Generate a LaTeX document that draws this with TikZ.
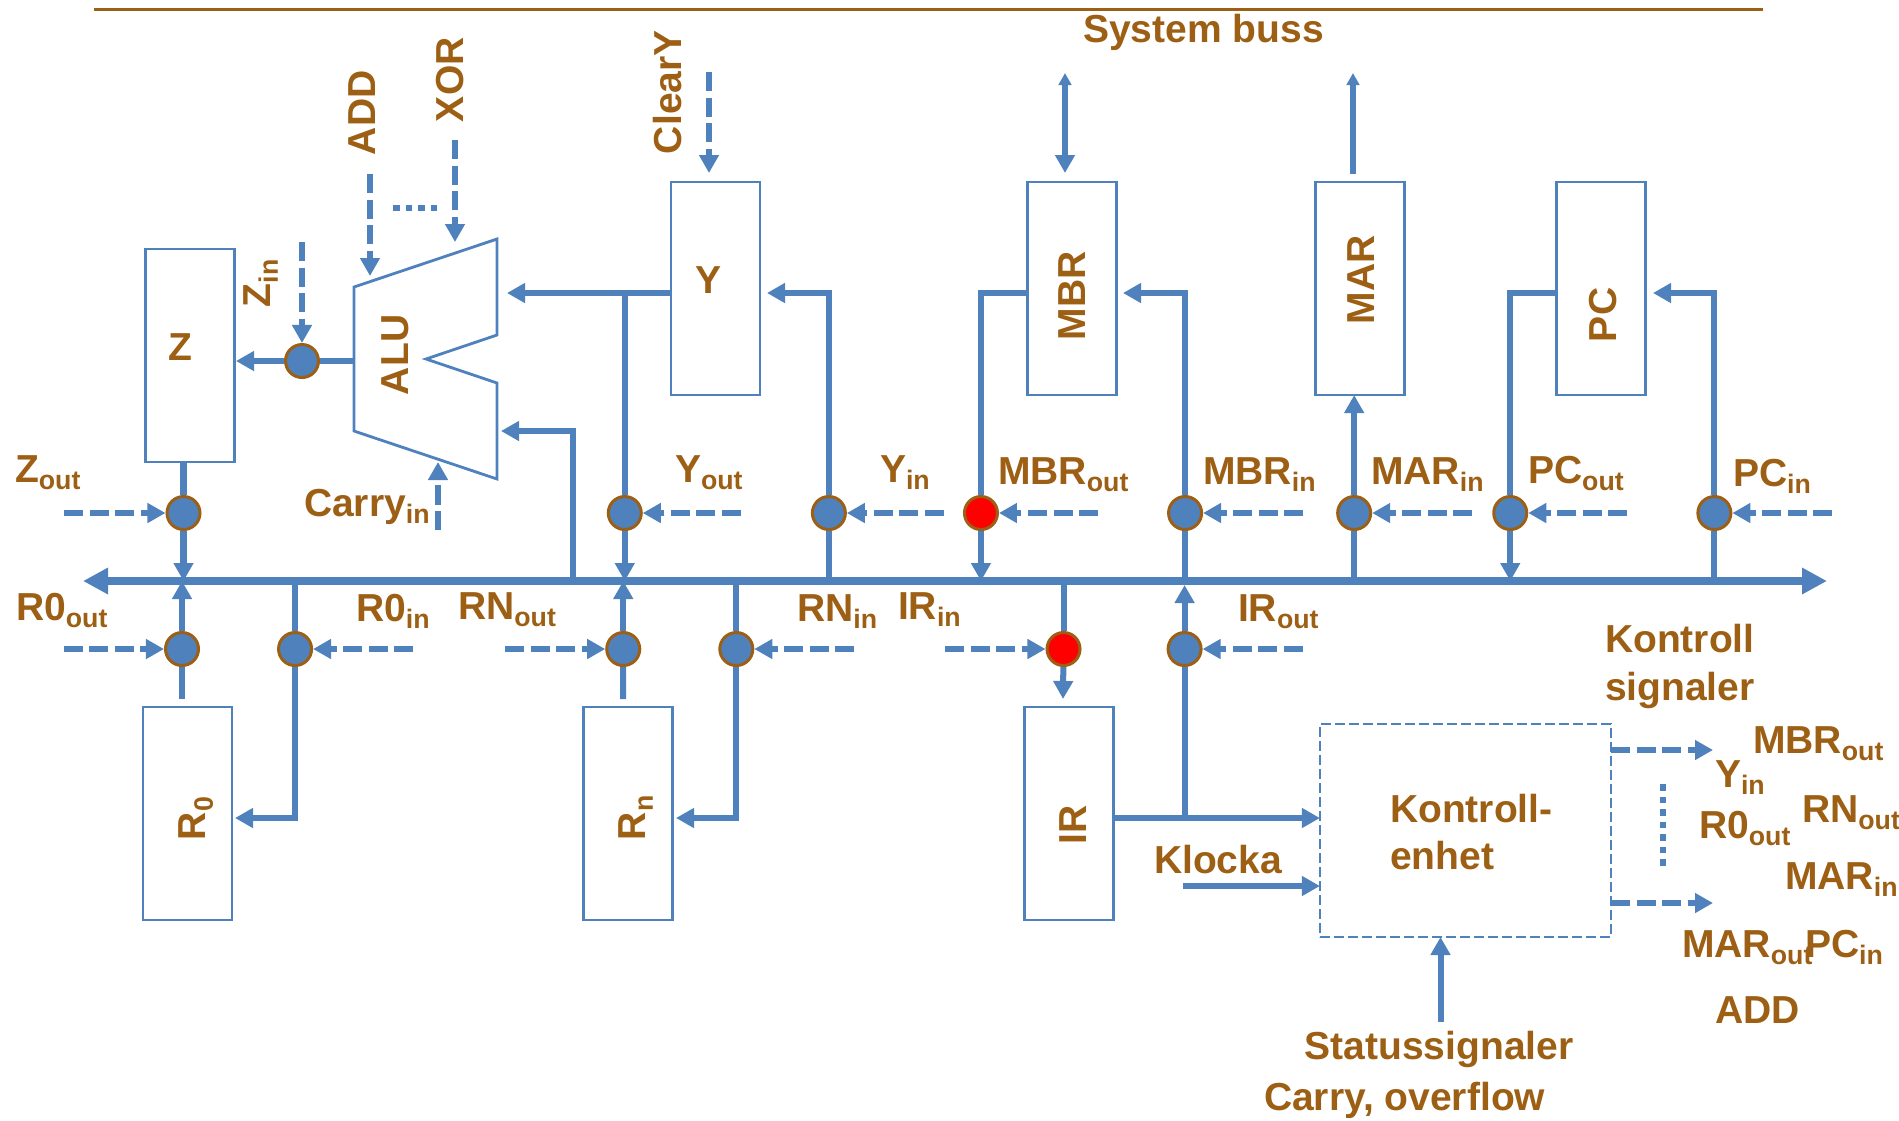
\documentclass[tikz,border=0pt]{standalone}
\usepackage{fontspec}
\setmainfont{Liberation Sans}
\usepackage{xcolor}
\usetikzlibrary{arrows.meta, positioning, calc}
\definecolor{brn}{HTML}{9C5F14}
\definecolor{blu}{HTML}{4F81BD}
\newcommand{\lowtx}[1]{\raisebox{-.2em}{\fontsize{7.6}{9}\selectfont #1}}

\begin{document}
\begin{tikzpicture}[
 x=.01cm,y=-.01cm,
 lbl/.style={font=\fontsize{11.1}{13}\selectfont\bfseries,text=brn,inner sep=0pt,outer sep=0pt,anchor=base west},
 rlbl/.style={lbl,rotate=90},
 reg/.style={rectangle,draw=blu,line width=.028cm,minimum width=.89cm,minimum height=2.13cm,inner sep=0pt,outer sep=0pt},
 sw/.style={circle,draw=brn,line width=.03cm,fill=blu,minimum size=.33cm,inner sep=0pt,outer sep=.015cm},
 swr/.style={sw,fill=red},
 wire/.style={blu,line width=.06cm},
 arr/.style={wire,-{Triangle[length=.18cm,width=.19cm]}},
 tiny arr/.style={wire,-{Triangle[length=.12cm,width=.125cm]}},
 ctl/.style={arr,dash pattern=on .19cm off .065cm},
 dots/.style={wire,dash pattern=on .065cm off .06cm}]
\useasboundingbox (0,0) rectangle (1899,1120);
\draw[brn,line width=.03cm] (94,9) coordinate (topl) -- (1763,9) coordinate (topr);
% registers
\node[reg] (z) at (190,355.5) {};
\node[reg] (y) at (715.5,288.5) {};
\node[reg,right=2.67cm of y] (mbr) {};
\node[reg,right=1.99cm of mbr] (mar) {};
\node[reg,right=1.52cm of mar] (pc) {};
\node[reg] (r0) at (187.5,813.5) {};
\node[reg,right=3.51cm of r0] (rn) {};
\node[reg,right=3.52cm of rn] (ir) {};
\node[rectangle,draw=blu,line width=.02cm,dash pattern=on .1cm off .04cm,minimum width=2.91cm,minimum height=2.13cm,inner sep=0pt,outer sep=0pt] (kontroll) at (1465.5,830.5) {};
% alu
\draw[blu,line width=.028cm] (354,287) coordinate (alua) -- (497,239) -- (497,335) -- (426,359) -- (497,383) -- (497,479) -- (354,431) -- cycle;
\coordinate (aluo) at (354,361);
% bus
\coordinate (busl) at (83,581);
\coordinate (busr) at (1827,581);
\coordinate (buse) at (0,585);
\draw[blu,line width=.08cm,{Triangle[length=.25cm,width=.25cm]}-{Triangle[length=.25cm,width=.25cm]}] (busl) -- (busr);
% switches
\node[sw] (zi) at (302,361) {};
\node[sw] (zo) at (183.5,513) {};
\node[sw,right=4.05cm of zo] (yo) {};
\node[sw,right=1.68cm of yo] (yi) {};
\node[swr,right=1.16cm of yi] (mo) {};
\node[sw,right=1.68cm of mo] (mi) {};
\node[sw,right=1.33cm of mi] (mari) {};
\node[sw,right=1.20cm of mari] (po) {};
\node[sw,right=1.68cm of po] (pi) {};
\node[sw] (r0o) at (182,649) {};
\node[sw,right=.77cm of r0o] (r0i) {};
\node[sw,right=2.92cm of r0i] (rno) {};
\node[sw,right=.77cm of rno] (rni) {};
\node[swr,right=2.91cm of rni] (iri) {};
\node[sw,right=.85cm of iri] (iro) {};
% control signals
\coordinate[left=1.01cm of zo] (zoc);
\coordinate[right=.98cm of yo] (yoc);
\coordinate[right=.97cm of yi] (yic);
\coordinate[right=.99cm of mo] (moc);
\coordinate[right=1cm of mi] (mic);
\coordinate[right=1cm of mari] (maric);
\coordinate[right=.99cm of po] (poc);
\coordinate[right=1cm of pi] (pic);
\coordinate[left=1cm of r0o] (r0oc);
\coordinate[right=1cm of r0i] (r0ic);
\coordinate[left=1cm of rno] (rnoc);
\coordinate[right=1cm of rni] (rnic);
\coordinate[left=1cm of iri] (iric);
\coordinate[right=1cm of iro] (iroc);
\draw[ctl] (zoc) -- (zo);
\draw[ctl] (yoc) -- (yo);
\draw[ctl] (yic) -- (yi);
\draw[ctl] (moc) -- (mo);
\draw[ctl] (mic) -- (mi);
\draw[ctl] (maric) -- (mari);
\draw[ctl] (poc) -- (po);
\draw[ctl] (pic) -- (pi);
\draw[ctl] (r0oc) -- (r0o);
\draw[ctl] (r0ic) -- (r0i);
\draw[ctl] (rnoc) -- (rno);
\draw[ctl] (rnic) -- (rni);
\draw[ctl] (iric) -- (iri);
\draw[ctl] (iroc) -- (iro);
\coordinate (zic) at (302,242);
\coordinate (adds) at (370,174);
\coordinate (addt) at (370,276);
\coordinate (xors) at (455,140);
\coordinate (xort) at (455,242);
\coordinate (clrs) at (709,72);
\coordinate (clrt) at (709,173);
\coordinate (cars) at (438,530);
\coordinate (cart) at (438,462);
\coordinate (dotl) at (393,208);
\coordinate (dotr) at (438,208);
\draw[ctl] (zic) -- (zi);
\draw[ctl] (adds) -- (addt);
\draw[ctl] (xors) -- (xort);
\draw[ctl] (clrs) -- (clrt);
\draw[ctl] (cars) -- (cart);
\draw[dots] (dotl) -- (dotr);
% data paths
\coordinate (zt) at (236,361);
\coordinate (aluy) at (507,293);
\coordinate (alub) at (501,431);
\coordinate (yt) at (767,293);
\coordinate (mt) at (1123,293);
\coordinate (pt) at (1653,293);
\coordinate (r0s) at (182,699);
\coordinate (rns) at (623,699);
\coordinate (irt) at (1063,699);
\coordinate (r0t) at (235,818);
\coordinate (rnt) at (676,818);
\draw[wire] (aluo) -- (zi);
\draw[arr] (zi) -- (zt);
\draw[wire] (zo |- z.south) -- (zo);
\draw[arr] (zo) -- (zo |- busl);
\draw[arr] (y.west |- aluy) -- (aluy);
\draw[wire] (yo |- aluy) -- (yo);
\draw[arr] (yo) -- (yo |- busl);
\draw[arr] (573,581) coordinate (alubus) |- (alub);
\draw[wire] (yi) -- (yi |- busl);
\draw[arr] (yi) |- (yt);
\draw[wire] (mbr.west |- yt) -| (mo);
\draw[arr] (mo) -- (mo |- busl);
\draw[wire] (mi) -- (mi |- busl);
\draw[arr] (mi) |- (mt);
\draw[wire] (mari) -- (mari |- busl);
\draw[arr] (mari) -- (mari |- mar.south);
\draw[wire] (pc.west |- yt) -| (po);
\draw[arr] (po) -- (po |- busl);
\draw[wire] (pi) -- (pi |- busl);
\draw[arr] (pi) |- (pt);
\draw[wire] (r0s) -- (r0o);
\draw[arr] (r0o) -- (r0o |- busl);
\draw[wire] (r0i |- busl) -- (r0i);
\draw[arr] (r0i) |- (r0t);
\draw[wire] (rns) -- (rno);
\draw[arr] (rno) -- (rno |- busl);
\draw[wire] (rni |- busl) -- (rni);
\draw[arr] (rni) |- (rnt);
\draw[wire] (iri |- busl) -- (iri);
\draw[arr] (iri) -- (irt);
\draw[arr] (iro) -- (iro |- buse);
% system bus
\coordinate (sb1) at (1065,73);
\coordinate (sb2) at (1065,173);
\coordinate (sb3) at (1353,174);
\coordinate (sb4) at (1353,73);
\draw[wire,{Triangle[length=.12cm,width=.125cm]}-{Triangle[length=.18cm,width=.19cm]}] (sb1) -- (sb2);
\draw[tiny arr] (sb3) -- (sb4);
% control unit
\coordinate (kin) at (kontroll.west |- 0,818);
\coordinate (kls) at (1183,886);
\coordinate (klt) at (kontroll.west |- kls);
\coordinate (ko1s) at (kontroll.east |- 0,750);
\coordinate (ko1t) at (1713,750);
\coordinate (ko2s) at (kontroll.east |- 0,903);
\coordinate (ko2t) at (1713,903);
\coordinate (kd1) at (1663,784);
\coordinate (kd2) at (1663,867);
\coordinate (sts) at (1440.5,1022);
\coordinate (stt) at (1440.5,937);
\draw[wire] (iro) -- (iro |- kin);
\draw[arr] (ir.east |- kin) -- (kin);
\draw[arr] (kls) -- (klt);
\draw[ctl] (ko1s) -- (ko1t);
\draw[ctl] (ko2s) -- (ko2t);
\draw[dots] (kd1) -- (kd2);
\draw[arr] (sts) -- (stt);
% texts
\node[lbl] (tsys) at (1083,42) {System buss};
\node[lbl] (tz) at (168,360) {Z};
\node[lbl] (ty) at (695,293) {Y};
\node[rlbl] (tadd) at (375,155) {ADD};
\node[rlbl] (txor) at (463,122) {XOR};
\node[rlbl] (tclr) at (681,154) {ClearY};
\node[rlbl] (tzin) at (270,307) {Z\lowtx{in}};
\node[rlbl] (talu) at (408,395) {ALU};
\node[rlbl] (tmbr) at (1085,340) {MBR};
\node[rlbl] (tmar) at (1374,324) {MAR};
\node[rlbl] (tpc) at (1616,342) {PC};
\node[rlbl] (tir) at (1086,844) {IR};
\node[rlbl] (tr0) at (205,840) {R\lowtx{0}};
\node[rlbl] (trn) at (645,840) {R\lowtx{n}};
\node[lbl] (tzo) at (15,482) {Z\lowtx{out}};
\node[lbl] (tcar) at (304,516) {Carry\lowtx{in}};
\node[lbl] (tyo) at (675,482) {Y\lowtx{out}};
\node[lbl] (tyi) at (880,482) {Y\lowtx{in}};
\node[lbl] (tmo) at (998,484) {MBR\lowtx{out}};
\node[lbl] (tmi) at (1203,484) {MBR\lowtx{in}};
\node[lbl] (tmari) at (1371,484) {MAR\lowtx{in}};
\node[lbl] (tpo) at (1528,483) {PC\lowtx{out}};
\node[lbl] (tpi) at (1733,486) {PC\lowtx{in}};
\node[lbl] (tr0o) at (16,620) {R0\lowtx{out}};
\node[lbl] (tr0i) at (356,621) {R0\lowtx{in}};
\node[lbl] (trno) at (458,619) {RN\lowtx{out}};
\node[lbl] (trni) at (797,621) {RN\lowtx{in}};
\node[lbl] (tiri) at (898,619) {IR\lowtx{in}};
\node[lbl] (tiro) at (1238,621) {IR\lowtx{out}};
\node[lbl] (tk1) at (1605,652) {Kontroll};
\node[lbl] (tk2) at (1605,700) {signaler};
\node[lbl] (tke1) at (1390,822) {Kontroll-};
\node[lbl] (tke2) at (1390,869) {enhet};
\node[lbl] (tklo) at (1154,873) {Klocka};
\node[lbl] (tsta) at (1304.5,1059) {Statussignaler};
\node[lbl] (tcao) at (1264,1110) {Carry, overflow};
\node[lbl] (ts1) at (1753,753) {MBR\lowtx{out}};
\node[lbl] (ts2) at (1715,787) {Y\lowtx{in}};
\node[lbl] (ts3) at (1699,838) {R0\lowtx{out}};
\node[lbl] (ts4) at (1802,822) {RN\lowtx{out}};
\node[lbl] (ts5) at (1785,889) {MAR\lowtx{in}};
\node[lbl] (ts6) at (1682,957) {MAR\lowtx{out}};
\node[lbl] (ts7) at (1805,957) {PC\lowtx{in}};
\node[lbl] (ts8) at (1715,1023) {ADD};
\end{tikzpicture}
\end{document}
